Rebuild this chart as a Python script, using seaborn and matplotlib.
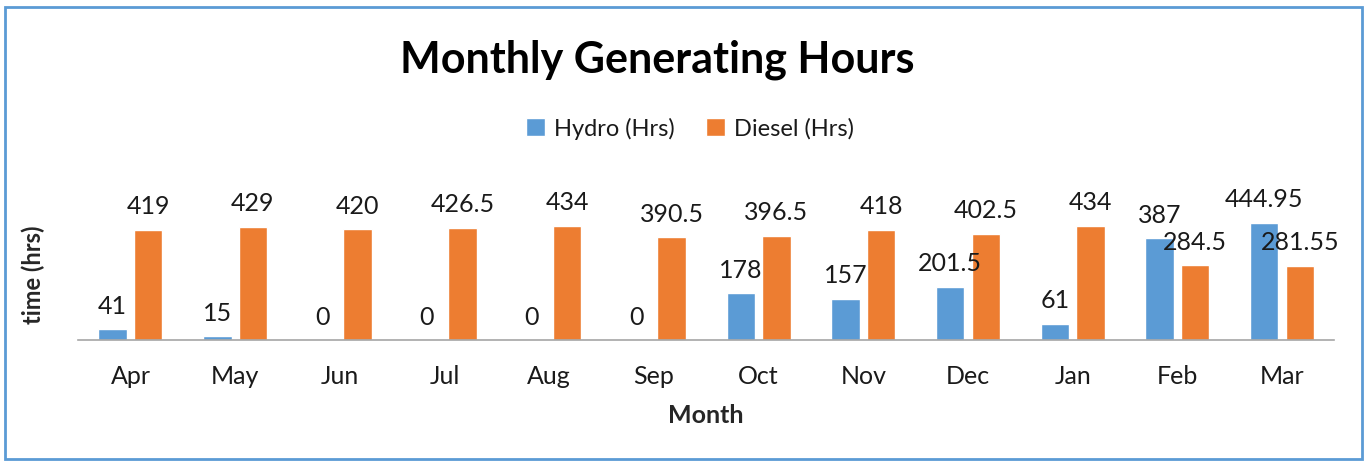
import matplotlib
matplotlib.use("Agg")
import matplotlib.pyplot as plt
import seaborn as sns
import pandas as pd
from matplotlib.patches import Rectangle

months = ["Apr", "May", "Jun", "Jul", "Aug", "Sep", "Oct", "Nov", "Dec", "Jan", "Feb", "Mar"]
hydro = [41, 15, 0, 0, 0, 0, 178, 157, 201.5, 61, 387, 444.95]
diesel = [419, 429, 420, 426.5, 434, 390.5, 396.5, 418, 402.5, 434, 284.5, 281.55]
series = ["Hydro (Hrs)", "Diesel (Hrs)"]
colors = ["#5B9BD5", "#ED7D31"]

df = pd.DataFrame({
    "Month": months * 2,
    "Hours": hydro + diesel,
    "Series": [series[0]] * len(months) + [series[1]] * len(months),
})

sns.set_theme(style="white")
plt.rcParams["font.family"] = ["Lato", "DejaVu Sans"]

fig = plt.figure(figsize=(13.7, 4.64), dpi=100)
ax = fig.add_axes([0.057, 0.265, 0.917, 0.284])

sns.barplot(data=df, x="Month", y="Hours", hue="Series", order=months,
            hue_order=series, palette=colors, width=0.68, gap=0.2,
            saturation=1, ax=ax, legend=True)

def fmt(v):
    return f"{v:g}"

for cont in ax.containers:
    ax.bar_label(cont, labels=[fmt(v) for v in cont.datavalues], padding=9,
                 fontsize=18, color="#1a1a1a")

ax.set_ylim(0, 500)
ax.set_xlim(-0.5, len(months) - 0.5)
ax.set_yticks([])
ax.tick_params(axis="x", length=0, labelsize=18, pad=17, colors="#1a1a1a")
for s in ["top", "right", "left"]:
    ax.spines[s].set_visible(False)
ax.spines["bottom"].set_color("#A6A6A6")
ax.spines["bottom"].set_linewidth(1.2)
ax.set_xlabel("Month", fontsize=18, fontweight="bold", labelpad=12)
ax.set_ylabel("time (hrs)", fontsize=17, fontweight="bold", labelpad=24)

leg = ax.legend(loc="center", bbox_to_anchor=(0.487, 1.61), ncol=2, frameon=False,
                fontsize=17, handlelength=0.8, handleheight=0.8, columnspacing=1.3,
                handletextpad=0.4)
for t in leg.get_texts():
    t.set_color("#1a1a1a")

fig.text(0.48, 0.871, "Monthly Generating Hours", ha="center", va="center",
         fontsize=31, fontweight="bold", color="black")

fig.patches.append(Rectangle((0.0036, 0.0086), 0.9904, 0.9744, transform=fig.transFigure,
                             fill=False, edgecolor="#5B9BD5", linewidth=2))

fig.savefig("out.png", dpi=100)
